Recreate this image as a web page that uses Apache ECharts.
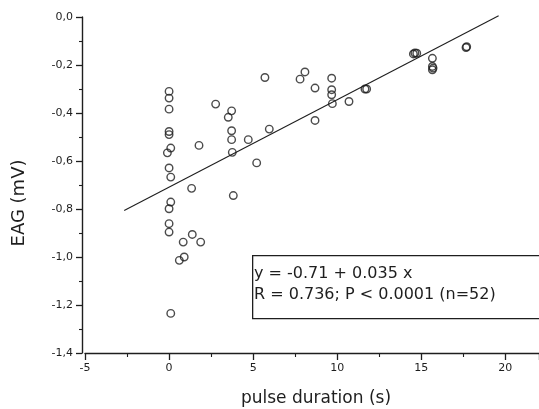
<!DOCTYPE html>
<html>
<head>
<meta charset="utf-8">
<script src="https://cdn.jsdelivr.net/npm/echarts@6/dist/echarts.min.js"></script>
<style>html,body{margin:0;padding:0;background:#fff}#c{width:539px;height:409px}</style>
</head>
<body>
<div id="c"></div>
<script>
// pulse duration (s)
var pulseX = [
  0, 0, 0, 0, 0, 0.1, -0.1, 0, 0.1, 0.1, 0, 0, 0, 0.1,
  2.77, 1.78, 1.34, 1.38, 0.84, 1.88, 0.90, 0.61,
  3.72, 3.52, 3.72, 3.72, 3.76, 3.82,
  4.71, 5.21, 5.70, 5.96,
  7.79, 8.08, 8.68, 8.68, 9.67, 9.67, 9.67, 9.71, 10.70, 11.65,
  14.53, 14.73, 15.66, 15.66, 15.66, 17.66,
  17.70, 11.75, 15.70, 14.62
];
// EAG (mV)
var eagY = [
  -0.310, -0.338, -0.384, -0.477, -0.490, -0.546, -0.566, -0.629, -0.667, -0.771, -0.799, -0.861, -0.896, -1.235,
  -0.363, -0.535, -0.714, -0.906, -0.938, -0.938, -1.000, -1.014,
  -0.391, -0.418, -0.474, -0.511, -0.564, -0.744,
  -0.511, -0.608, -0.252, -0.467,
  -0.259, -0.229, -0.296, -0.431, -0.255, -0.303, -0.324, -0.361, -0.352, -0.300,
  -0.154, -0.151, -0.172, -0.206, -0.220, -0.127,
  -0.124, -0.300, -0.213, -0.150
];
// regression line as drawn
var fitX = [-2.67, 19.6];
var fitY = [-0.806, 0.005];
var xTickValues = [-5, 0, 5, 10, 15, 20];
var xTickLabels = ['-5', '0', '5', '10', '15', '20'];
var yTickValues = [-1.4, -1.2, -1.0, -0.8, -0.6, -0.4, -0.2, 0.0];
var yTickLabels = ['-1,4', '-1,2', '-1,0', '-0,8', '-0,6', '-0,4', '-0,2', '0,0'];
var statLines = ['y = -0.71 + 0.035 x', 'R = 0.736; P < 0.0001 (n=52)'];
var xName = 'pulse duration (s)';
var yName = 'EAG (mV)';

function lookup(vals, labels, v) {
  for (var i = 0; i < vals.length; i++) {
    if (Math.abs(vals[i] - v) < 1e-6) return labels[i];
  }
  return '';
}

var ink = '#1e1e1e';
var chart = echarts.init(document.getElementById('c'), null, {renderer: 'canvas'});
var scatterData = pulseX.map(function (x, i) { return [x, eagY[i]]; });
var fitData = fitX.map(function (x, i) { return [x, fitY[i]]; });

chart.setOption({
  animation: false,
  backgroundColor: '#fff',
  grid: {left: 85, right: 0, top: 17, bottom: 56, containLabel: false},
  xAxis: {
    type: 'value', min: -5, max: 22, interval: 5,
    axisLine: {onZero: false, lineStyle: {color: ink, width: 1.4}},
    axisTick: {show: true, length: 7, lineStyle: {color: ink, width: 1.3}},
    minorTick: {show: true, splitNumber: 2, length: 4, lineStyle: {color: ink, width: 1.1}},
    splitLine: {show: false},
    minorSplitLine: {show: false},
    axisLabel: {
      showMaxLabel: false, margin: 10, color: ink, fontSize: 11, fontFamily: 'DejaVu Sans',
      formatter: function (v) { return lookup(xTickValues, xTickLabels, v); }
    }
  },
  yAxis: {
    type: 'value', min: -1.4, max: 0, interval: 0.2, offset: 3,
    axisLine: {onZero: false, lineStyle: {color: ink, width: 1.4}},
    axisTick: {show: true, length: 6, lineStyle: {color: ink, width: 1.3}},
    minorTick: {show: true, splitNumber: 2, length: 3, lineStyle: {color: ink, width: 1.1}},
    splitLine: {show: false},
    minorSplitLine: {show: false},
    axisLabel: {
      margin: 9, color: ink, fontSize: 11, fontFamily: 'DejaVu Sans',
      formatter: function (v) { return lookup(yTickValues, yTickLabels, v); }
    }
  },
  series: [
    {
      type: 'line', data: fitData, showSymbol: false, symbol: 'none', clip: false,
      lineStyle: {color: ink, width: 1.1}, z: 2
    },
    {
      type: 'scatter', data: scatterData, symbol: 'circle', symbolSize: 7.5,
      itemStyle: {color: 'rgba(0,0,0,0)', borderColor: ink, borderWidth: 1.4}, z: 3
    }
  ],
  graphic: [
    {
      type: 'rect', left: 252, top: 255, z: 10,
      shape: {width: 295, height: 63},
      style: {fill: '#fff', stroke: ink, lineWidth: 1.3}
    },
    {
      type: 'text', left: 254, top: 266, z: 11,
      style: {text: statLines[0], fill: ink, font: '16px "DejaVu Sans"'}
    },
    {
      type: 'text', left: 254, top: 287, z: 11,
      style: {text: statLines[1], fill: ink, font: '16px "DejaVu Sans"'}
    },
    {
      type: 'text', x: 316, y: 399, z: 11,
      style: {text: xName, fill: ink, font: '17px "DejaVu Sans"', align: 'center', verticalAlign: 'middle'}
    },
    {
      type: 'text', x: 19, y: 203, rotation: Math.PI / 2, z: 11,
      style: {text: yName, fill: ink, font: '18px "DejaVu Sans"', align: 'center', verticalAlign: 'middle'}
    }
  ]
});
</script>
</body>
</html>
